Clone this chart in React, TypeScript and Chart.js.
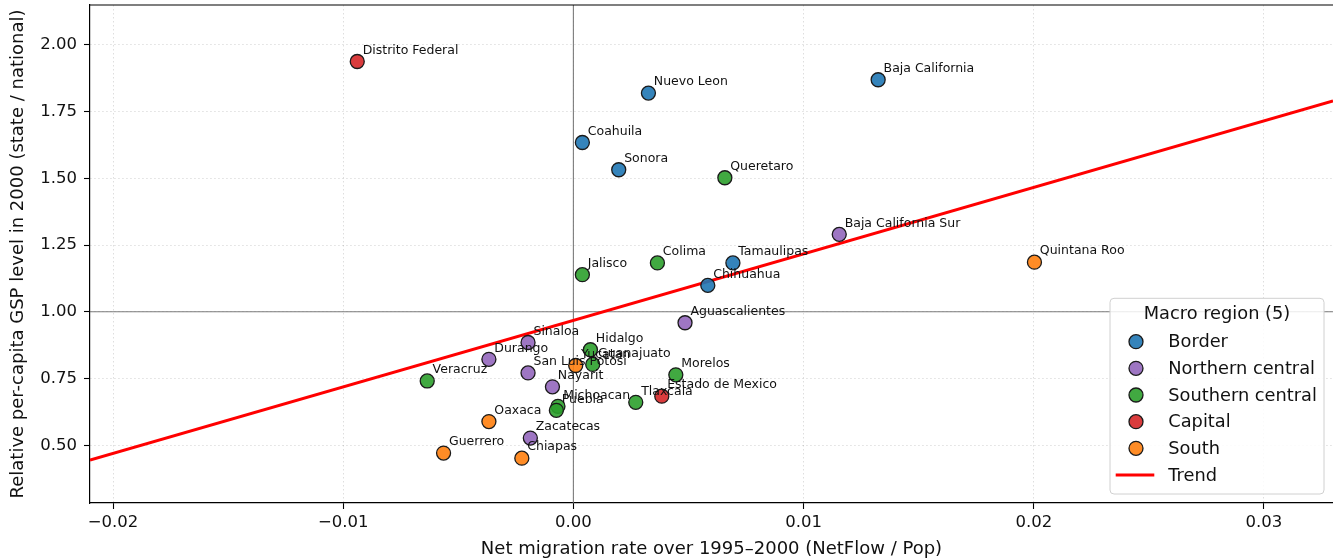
import React, { useEffect, useRef } from "react";
import { Chart, registerables } from "chart.js";

Chart.register(...registerables);

const FONT = "'DejaVu Sans', 'Liberation Sans', sans-serif";

// ---- Data ----
const regionNames = ["Border", "Northern central", "Southern central", "Capital", "South"];
const regionColors = ["rgba(31,119,180,0.9)", "rgba(148,103,189,0.9)", "rgba(44,160,44,0.9)", "rgba(214,39,40,0.9)", "rgba(255,127,14,0.9)"];

const borderStates = ["Baja California", "Nuevo Leon", "Coahuila", "Sonora", "Tamaulipas", "Chihuahua"];
const borderX = [0.01324, 0.00326, 0.00039, 0.00197, 0.00693, 0.00584];
const borderY = [1.869, 1.819, 1.634, 1.532, 1.183, 1.099];

const northCentralStates = ["Baja California Sur", "Aguascalientes", "Sinaloa", "Durango", "San Luis Potosi", "Nayarit", "Zacatecas"];
const northCentralX = [0.01155, 0.00485, -0.00197, -0.00367, -0.00197, -0.00091, -0.00187];
const northCentralY = [1.29, 0.959, 0.885, 0.822, 0.771, 0.719, 0.527];

const southCentralStates = ["Queretaro", "Colima", "Jalisco", "Hidalgo", "Guanajuato", "Veracruz", "Morelos", "Tlaxcala", "Michoacan", "Puebla"];
const southCentralX = [0.00658, 0.00365, 0.00039, 0.00074, 0.00084, -0.00635, 0.00445, 0.00271, -0.00067, -0.00074];
const southCentralY = [1.502, 1.183, 1.139, 0.858, 0.803, 0.741, 0.764, 0.661, 0.646, 0.631];

const capitalStates = ["Distrito Federal", "Estado de Mexico"];
const capitalX = [-0.00939, 0.00384];
const capitalY = [1.9375, 0.684];

const southStates = ["Quintana Roo", "Yucatan", "Oaxaca", "Guerrero", "Chiapas"];
const southX = [0.02003, 0.0001, -0.00367, -0.00564, -0.00224];
const southY = [1.186, 0.799, 0.589, 0.471, 0.452];

const trendX = [-0.021, 0.033];
const trendY = [0.445, 1.79];

const xTicks = [-0.02, -0.01, 0.0, 0.01, 0.02, 0.03];
const yTicks = [0.5, 0.75, 1.0, 1.25, 1.5, 1.75, 2.0];

const refX = 0;
const refY = 1;

const xTitle = "Net migration rate over 1995\u20132000 (NetFlow / Pop)";
const yTitle = "Relative per-capita GSP level in 2000 (state / national)";
const legendTitle = "Macro region (5)";

const groups = [
  { names: borderStates, xs: borderX, ys: borderY },
  { names: northCentralStates, xs: northCentralX, ys: northCentralY },
  { names: southCentralStates, xs: southCentralX, ys: southCentralY },
  { names: capitalStates, xs: capitalX, ys: capitalY },
  { names: southStates, xs: southX, ys: southY },
];

const fmtX = (v: number) => {
  if (Math.abs(v) < 1e-9) return "0.00";
  return (v < 0 ? "\u2212" : "") + Math.abs(v).toFixed(2);
};

const refLinesPlugin = {
  id: "refLines",
  beforeDatasetsDraw(chart: any) {
    const { ctx, chartArea, scales } = chart;
    const px = scales.x.getPixelForValue(refX);
    const py = scales.y.getPixelForValue(refY);
    ctx.save();
    ctx.strokeStyle = "rgba(110,110,110,0.9)";
    ctx.lineWidth = 1.1;
    ctx.beginPath();
    ctx.moveTo(px, chartArea.top);
    ctx.lineTo(px, chartArea.bottom);
    ctx.moveTo(chartArea.left, py);
    ctx.lineTo(chartArea.right, py);
    ctx.stroke();
    ctx.restore();
  },
};

const labelsPlugin = {
  id: "pointLabels",
  afterDatasetsDraw(chart: any) {
    const { ctx, chartArea } = chart;
    ctx.save();
    // top frame
    ctx.strokeStyle = "#000";
    ctx.lineWidth = 1.2;
    ctx.beginPath();
    ctx.moveTo(chartArea.left, chartArea.top);
    ctx.lineTo(chartArea.right, chartArea.top);
    ctx.stroke();
    ctx.font = `12.5px ${FONT}`;
    ctx.fillStyle = "#111";
    ctx.textAlign = "left";
    ctx.textBaseline = "alphabetic";
    chart.data.datasets.forEach((ds: any, i: number) => {
      if (!ds.names) return;
      const meta = chart.getDatasetMeta(i);
      meta.data.forEach((pt: any, j: number) => {
        ctx.fillText(ds.names[j], pt.x + 5.4, pt.y - 7.7);
      });
    });
    ctx.restore();
  },
};

const legendPlugin = {
  id: "customLegend",
  afterDraw(chart: any) {
    const { ctx, chartArea } = chart;
    const w = 214;
    const h = 195.7;
    const bx = chartArea.right - 9 - w;
    const by = chartArea.bottom - 9 - h;
    ctx.save();
    ctx.beginPath();
    ctx.roundRect(bx, by, w, h, 4);
    ctx.fillStyle = "rgba(255,255,255,0.85)";
    ctx.fill();
    ctx.strokeStyle = "#d0d0d0";
    ctx.lineWidth = 1;
    ctx.stroke();

    ctx.font = `17.8px ${FONT}`;
    ctx.fillStyle = "#111";
    ctx.textBaseline = "middle";
    ctx.textAlign = "center";
    ctx.fillText(legendTitle, bx + w / 2, by + 16);

    ctx.textAlign = "left";
    const rowH = 26.65;
    const items = chart.data.datasets;
    items.forEach((ds: any, i: number) => {
      const cy = by + 43.4 + i * rowH;
      if (ds.names) {
        ctx.beginPath();
        ctx.arc(bx + 26, cy, ds.pointRadius, 0, Math.PI * 2);
        ctx.fillStyle = ds.backgroundColor;
        ctx.fill();
        ctx.strokeStyle = ds.borderColor;
        ctx.lineWidth = ds.borderWidth;
        ctx.stroke();
      } else {
        ctx.beginPath();
        ctx.moveTo(bx + 5.7, cy);
        ctx.lineTo(bx + 44.3, cy);
        ctx.strokeStyle = ds.borderColor;
        ctx.lineWidth = ds.borderWidth;
        ctx.stroke();
      }
      ctx.fillStyle = "#111";
      ctx.fillText(ds.label, bx + 58.3, cy + 1);
    });
    ctx.restore();
  },
};

export default function App() {
  const ref = useRef<HTMLCanvasElement>(null);
  useEffect(() => {
    document.body.style.margin = "0";
    document.body.style.overflow = "hidden";
    const canvas = ref.current;
    if (!canvas) return;

    const datasets: any[] = groups.map((g, i) => ({
      label: regionNames[i],
      names: g.names,
      data: g.xs.map((x, j) => ({ x, y: g.ys[j] })),
      backgroundColor: regionColors[i],
      borderColor: "#1a1a1a",
      borderWidth: 1.3,
      pointRadius: 7,
      pointHoverRadius: 7,
      showLine: false,
      order: 0,
    }));
    datasets.push({
      label: "Trend",
      data: trendX.map((x, j) => ({ x, y: trendY[j] })),
      borderColor: "#ff0000",
      backgroundColor: "#ff0000",
      borderWidth: 3,
      pointRadius: 0,
      showLine: true,
      order: 1,
    });

    const chart = new Chart(canvas, {
      type: "scatter",
      data: { datasets },
      plugins: [refLinesPlugin, labelsPlugin, legendPlugin],
      options: {
        responsive: false,
        animation: false,
        devicePixelRatio: 1,
        layout: { autoPadding: false, padding: { top: 5, left: 0, right: 0, bottom: 0 } },
        plugins: { legend: { display: false }, tooltip: { enabled: false } },
        scales: {
          x: {
            type: "linear",
            min: -0.021,
            max: 0.033,
            afterBuildTicks: (s: any) => {
              s.ticks = xTicks.map((v) => ({ value: v }));
            },
            afterFit: (s: any) => {
              s.height = 57;
              s.paddingLeft = 0;
              s.paddingRight = 0;
              s.paddingTop = 0;
              s.paddingBottom = 0;
            },
            ticks: {
              callback: (v: any) => fmtX(Number(v)),
              font: { family: FONT, size: 16.5 },
              color: "#111",
              padding: 4,
              maxRotation: 0,
              autoSkip: false,
            },
            grid: {
              color: "rgba(0,0,0,0.13)",
              lineWidth: 1,
              tickLength: 6,
              tickColor: "#000",
              tickWidth: 1.1,
            },
            border: { display: true, color: "#000", width: 1.2, dash: [1.5, 2.5] },
            title: {
              display: true,
              text: xTitle,
              font: { family: FONT, size: 18 },
              color: "#111",
              padding: { top: 0, bottom: 0 },
            },
          },
          y: {
            type: "linear",
            min: 0.284,
            max: 2.149,
            afterBuildTicks: (s: any) => {
              s.ticks = yTicks.map((v) => ({ value: v }));
            },
            afterFit: (s: any) => {
              s.width = 90;
              s.paddingLeft = 0;
              s.paddingRight = 0;
              s.paddingTop = 0;
              s.paddingBottom = 0;
            },
            ticks: {
              callback: (v: any) => Number(v).toFixed(2),
              font: { family: FONT, size: 16.5 },
              color: "#111",
              padding: 7,
              autoSkip: false,
            },
            grid: {
              color: "rgba(0,0,0,0.13)",
              lineWidth: 1,
              tickLength: 6,
              tickColor: "#000",
              tickWidth: 1.1,
            },
            border: { display: true, color: "#000", width: 1.2, dash: [1.5, 2.5] },
            title: {
              display: true,
              text: yTitle,
              font: { family: FONT, size: 18 },
              color: "#111",
              padding: { top: 8, bottom: 0 },
            },
          },
        },
      } as any,
    });
    return () => chart.destroy();
  }, []);

  return (
    <div style={{ width: 1333, height: 560 }}>
      <canvas ref={ref} width={1333} height={560} style={{ display: "block" }} />
    </div>
  );
}
